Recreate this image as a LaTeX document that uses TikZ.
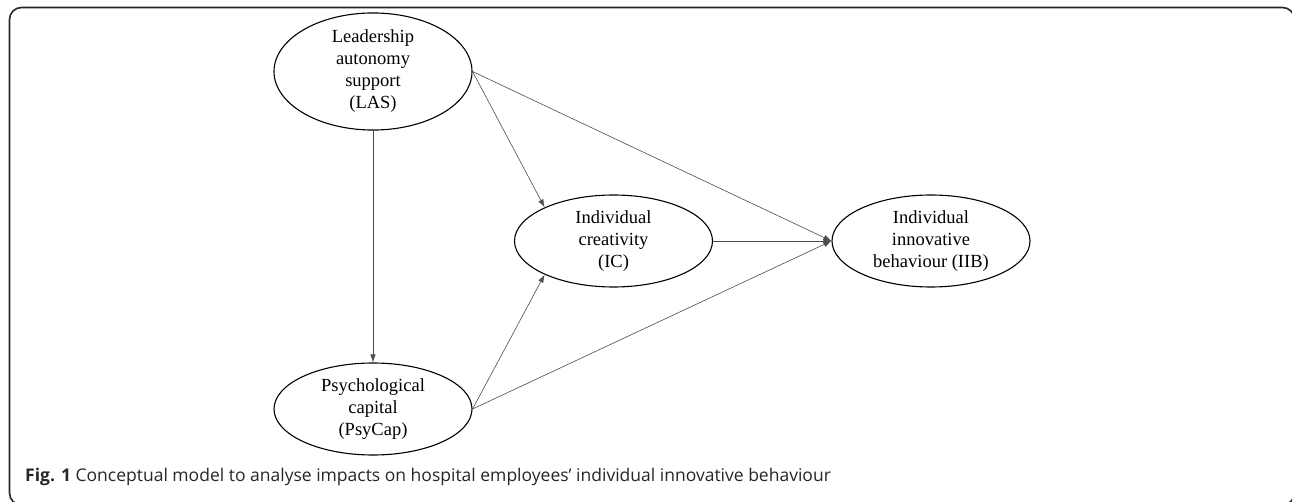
\documentclass[tikz,border=0pt]{standalone}
\usepackage{fontspec}
\setmainfont{Liberation Serif}
\newfontfamily\capfont{Open Sans}
\usetikzlibrary{shapes.geometric,arrows.meta}
\begin{document}
\begin{tikzpicture}[x=1pt,y=-1pt,
  latent/.style={ellipse, draw=black, line width=1.1pt, minimum width=198pt, minimum height=92pt, inner sep=0pt, align=center, font=\fontsize{18.5}{22}\selectfont},
  pathline/.style={draw=black!70, line width=0.6pt, -{Latex[length=8pt,width=5.5pt]}},
  frameline/.style={draw=black!85, line width=1.6pt, rounded corners=12pt},
  captionstyle/.style={anchor=base west, inner sep=0pt, text=black!85, font=\capfont\fontsize{17.5}{20}\selectfont}
]
\useasboundingbox (0,0) rectangle (1292,502);
\begin{scope}
\clip (0,0) rectangle (1292,502);
\draw[frameline] (9.5,7.5) rectangle (1294.5,505);
\end{scope}
\node[latent] (las) at (373,71.5) {Leadership\\autonomy\\support\\(LAS)};
\node[latent] (ic) at (613.5,241) {Individual\\creativity\\(IC)};
\node[latent] (iib) at (931,241) {Individual\\innovative\\behaviour (IIB)};
\node[latent] (psy) at (373,409) {Psychological\\capital\\(PsyCap)};
\draw[pathline] (las.south) -- (psy.north);
\draw[pathline] (las.east) -- (ic.154);
\draw[pathline] (las.east) -- (iib.west);
\draw[pathline] (psy.east) -- (ic.206);
\draw[pathline] (psy.east) -- (iib.west);
\draw[pathline] (ic.east) -- (iib.west);
\node[captionstyle] (cap) at (25,481) {\textbf{Fig. 1} Conceptual model to analyse impacts on hospital employees’ individual innovative behaviour};
\end{tikzpicture}
\end{document}
